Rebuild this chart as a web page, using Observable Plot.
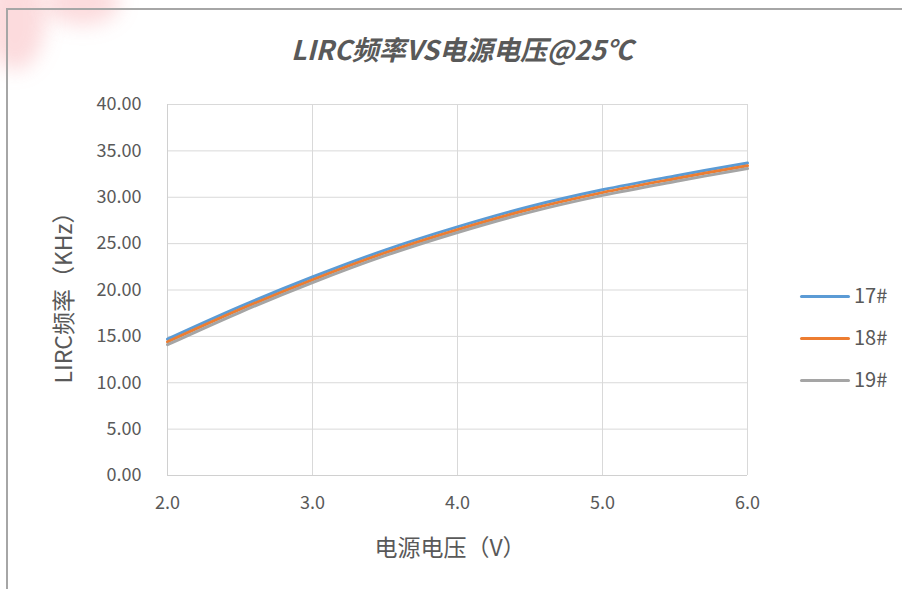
<!DOCTYPE html>
<html>
<head>
<meta charset="utf-8">
<script src="https://cdn.jsdelivr.net/npm/d3@7"></script>
<script src="https://cdn.jsdelivr.net/npm/@observablehq/plot@0.6"></script>
<style>
  html, body { margin: 0; padding: 0; background: #fff; }
  body { width: 902px; height: 589px; position: relative; overflow: hidden;
         font-family: "Noto Sans CJK SC", "Noto Sans", sans-serif; color: #595959; }
  #chart { position: absolute; left: 0; top: 0; }
  .abs { position: absolute; white-space: nowrap; }
  #title { left: 0; width: 924px; top: 32px; text-align: center; font-size: 27px;
           font-weight: bold; font-style: italic; color: #595959; line-height: 34px; }
  #ylab { left: 62px; top: 292px; font-size: 23px; transform: translate(-50%, -50%) rotate(-90deg); }
  #xlab { left: 450px; top: 546px; font-size: 23px; transform: translate(-50%, -50%); }
  .leg { position: absolute; left: 800px; font-size: 20px; line-height: 22px; }
  .leg span.sw { display: inline-block; width: 50px; height: 3px; border-radius: 2px;
                 vertical-align: middle; margin-right: 4px; position: relative; top: -1px; }
  #frameTop { position: absolute; left: 7px; top: 8px; width: 895px; height: 2px; background: #a6a6a6; }
  #frameLeft { position: absolute; left: 6px; top: 8px; width: 2px; height: 581px; background: #a6a6a6; }
  .blob { position: absolute; border-radius: 50%; filter: blur(10px); background: rgba(240, 90, 100, 0.22); }
</style>
</head>
<body>
<div class="blob" style="left:-15px; top:-30px; width:60px; height:100px;"></div>
<div class="blob" style="left:45px; top:-20px; width:75px; height:45px;"></div>
<div id="frameTop"></div>
<div id="frameLeft"></div>
<div id="chart"></div>
<div id="title" class="abs">LIRC频率VS电源电压@25℃</div>
<div id="ylab" class="abs">LIRC频率（KHz）</div>
<div id="xlab" class="abs">电源电压（V）</div>
<div id="legend"></div>
<script>
// ---- data ----
const voltages = [2.0, 2.5, 3.0, 3.5, 4.0, 4.5, 5.0, 5.5, 6.0];
const s17 = [14.7, 18.2, 21.4, 24.3, 26.8, 29.0, 30.8, 32.3, 33.7];
const s18 = [14.4, 17.9, 21.1, 24.0, 26.5, 28.7, 30.5, 32.0, 33.4];
const s19 = [14.1, 17.6, 20.8, 23.7, 26.2, 28.4, 30.2, 31.7, 33.1];
const seriesNames = ["17#", "18#", "19#"];
const seriesColors = ["#5b9bd5", "#ed7d31", "#a5a5a5"];
const xTicks = [2, 3, 4, 5, 6];
const yTicks = [0, 5, 10, 15, 20, 25, 30, 35, 40];

const seriesValues = [s17, s18, s19];
const rows = [];
seriesNames.forEach((name, i) => {
  voltages.forEach((v, j) => rows.push({series: name, v, f: seriesValues[i][j]}));
});

const plot = Plot.plot({
  width: 902,
  height: 589,
  marginLeft: 167,
  marginRight: 155,
  marginTop: 104,
  marginBottom: 114,
  style: {fontFamily: '"Noto Sans CJK SC", "Noto Sans", sans-serif', fontSize: "18px", color: "#595959", background: "transparent"},
  x: {domain: [2, 6]},
  y: {domain: [0, 40]},
  color: {domain: seriesNames, range: seriesColors},
  marks: [
    Plot.gridX(xTicks, {stroke: "#d9d9d9", strokeOpacity: 1, strokeWidth: 1}),
    Plot.gridY(yTicks, {stroke: "#d9d9d9", strokeOpacity: 1, strokeWidth: 1}),
    Plot.ruleX([2], {stroke: "#d0d0d0", strokeWidth: 1}),
    Plot.ruleY([0], {stroke: "#d0d0d0", strokeWidth: 1}),
    Plot.axisX(xTicks, {tickSize: 0, tickPadding: 21, tickFormat: d3.format(".1f"), label: null, fontSize: 18}),
    Plot.axisY(yTicks, {tickSize: 0, tickPadding: 26, tickFormat: d3.format(".2f"), label: null, fontSize: 18}),
    Plot.line(rows, {x: "v", y: "f", stroke: "series", strokeWidth: 3, curve: "catmull-rom"})
  ]
});
document.getElementById("chart").appendChild(plot);

const legend = document.getElementById("legend");
const legendTops = [284, 326, 368];
seriesNames.forEach((name, i) => {
  const d = document.createElement("div");
  d.className = "leg";
  d.style.top = legendTops[i] + "px";
  const sw = document.createElement("span");
  sw.className = "sw";
  sw.style.background = seriesColors[i];
  d.appendChild(sw);
  d.appendChild(document.createTextNode(name));
  legend.appendChild(d);
});
</script>
</body>
</html>
